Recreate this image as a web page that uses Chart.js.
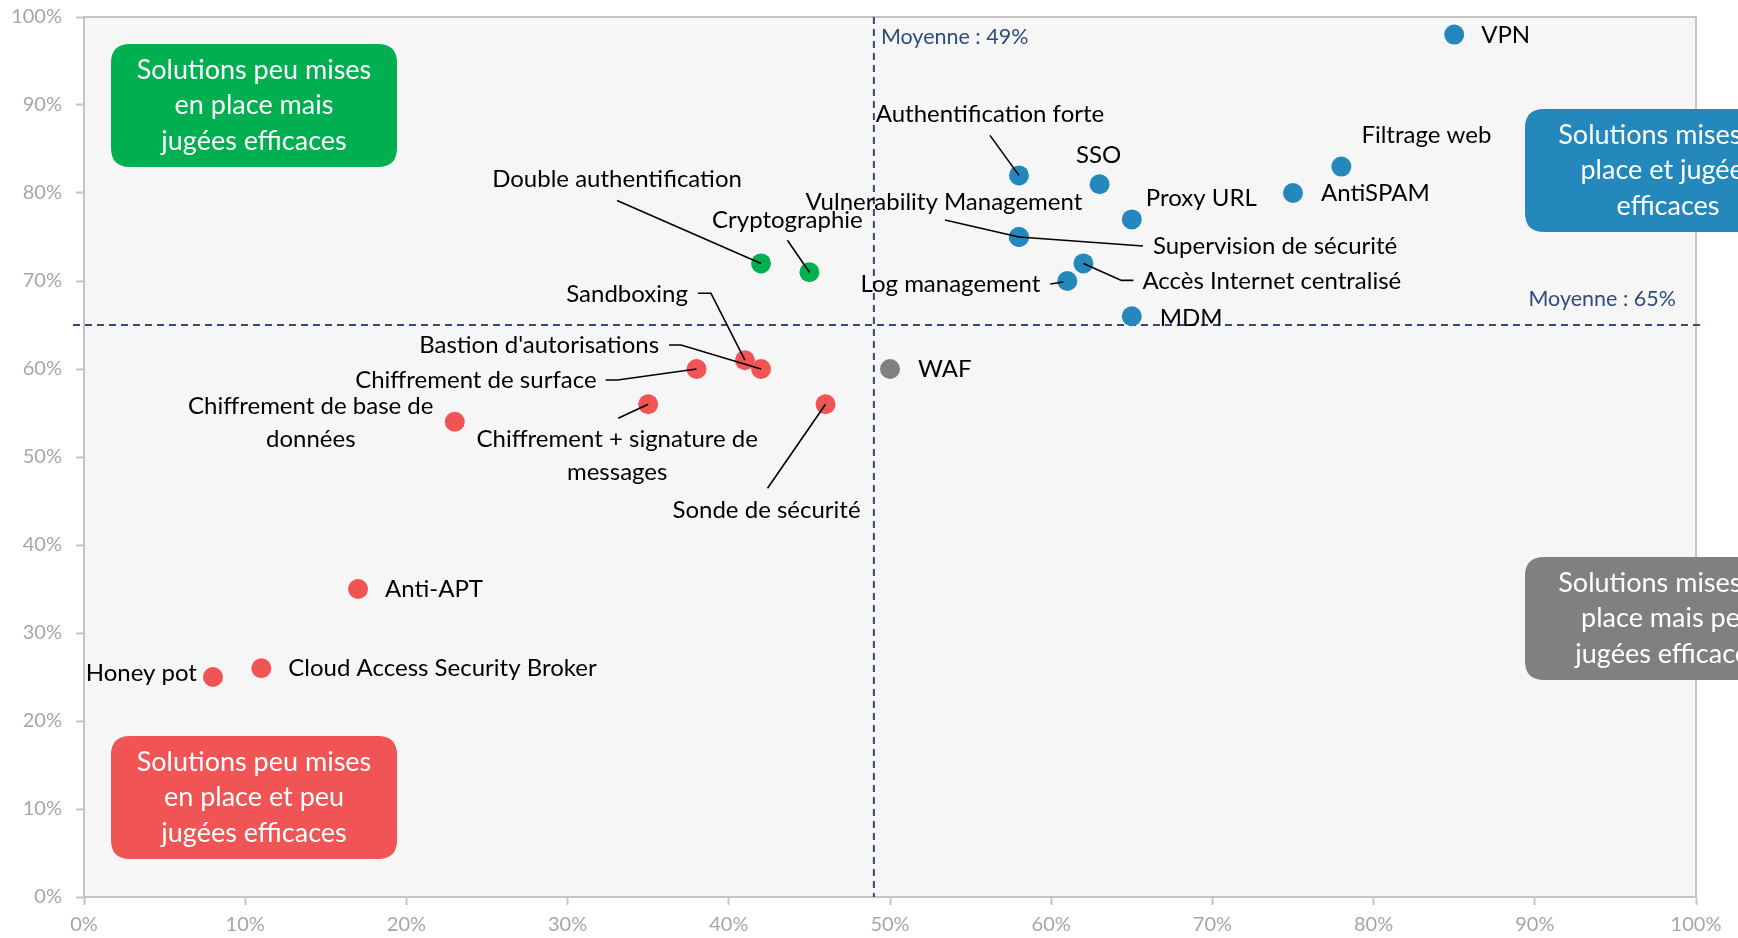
<!DOCTYPE html>
<html>
<head>
<meta charset="utf-8">
<script src="https://cdn.jsdelivr.net/npm/chart.js@4"></script>
<style>
  html, body { margin: 0; padding: 0; background: #fff; }
  canvas { display: block; }
</style>
</head>
<body>
<canvas id="chart" width="1738" height="938"></canvas>
<script>
// values (x = mise en place, y = efficacité, in %)
const blueNames = ['VPN', 'Filtrage web', 'AntiSPAM', 'Authentification forte', 'SSO', 'Proxy URL',
  'Vulnerability Management', 'Supervision de sécurité', 'Accès Internet centralisé', 'Log management', 'MDM'];
const blueX = [85, 78, 75, 58, 63, 65, 58, 58, 62, 61, 65];
const blueY = [98, 83, 80, 82, 81, 77, 75, 75, 72, 70, 66];

const greenNames = ['Double authentification', 'Cryptographie'];
const greenX = [42, 45];
const greenY = [72, 71];

const redNames = ['Sandboxing', "Bastion d'autorisations", 'Chiffrement de surface', 'Chiffrement de base de données',
  'Chiffrement + signature de messages', 'Sonde de sécurité', 'Anti-APT', 'Cloud Access Security Broker', 'Honey pot'];
const redX = [41, 42, 38, 23, 35, 46, 17, 11, 8];
const redY = [61, 60, 60, 54, 56, 56, 35, 26, 25];

const greyNames = ['WAF'];
const greyX = [50];
const greyY = [60];

const meanX = 49;
const meanY = 65;

const quadrantTexts = {
  topLeft: ['Solutions peu mises', 'en place mais', 'jugées efficaces'],
  topRight: ['Solutions mises en', 'place et jugées', 'efficaces'],
  bottomRight: ['Solutions mises en', 'place mais peu', 'jugées efficaces'],
  bottomLeft: ['Solutions peu mises', 'en place et peu', 'jugées efficaces']
};

// label placement: pixel offsets from the point, optional leader line
const labelLayout = {
  'VPN': { dx: 27, dy: 1, align: 'left' },
  'Filtrage web': { dx: 85, dy: -31, align: 'center' },
  'AntiSPAM': { dx: 28, dy: 0, align: 'left' },
  'Authentification forte': { dx: -29, dy: -61, align: 'center', leader: [[-29, -40], [0, 0]] },
  'SSO': { dx: -1, dy: -29, align: 'center' },
  'Proxy URL': { dx: 14, dy: -21, align: 'left' },
  'Vulnerability Management': { dx: -75, dy: -35, align: 'center', leader: [[-74, -17], [0, 0]] },
  'Supervision de sécurité': { dx: 134, dy: 9, align: 'left', leader: [[124, 9], [0, 0]] },
  'Accès Internet centralisé': { dx: 59, dy: 18, align: 'left', leader: [[50, 17], [38, 17], [0, 0]] },
  'Log management': { dx: -27, dy: 3, align: 'right', leader: [[-17, 3], [-4, 1]] },
  'MDM': { dx: 28, dy: 2, align: 'left' },
  'WAF': { dx: 28, dy: 0, align: 'left' },
  'Double authentification': { dx: -144, dy: -84, align: 'center', leader: [[-144, -63], [0, 0]] },
  'Cryptographie': { dx: -22, dy: -52, align: 'center', leader: [[-22, -32], [0, 0]] },
  'Sandboxing': { dx: -57, dy: -66, align: 'right', leader: [[-47, -67], [-34, -67], [0, 0]] },
  "Bastion d'autorisations": { dx: -102, dy: -24, align: 'right', leader: [[-92, -24], [-80, -24], [0, 0]] },
  'Chiffrement de surface': { dx: -100, dy: 11, align: 'right', leader: [[-91, 11], [-79, 11], [0, 0]] },
  'Chiffrement de base de données': { dx: -144, dy: -16, align: 'center', lines: ['Chiffrement de base de', 'données'] },
  'Chiffrement + signature de messages': { dx: -31, dy: 35, align: 'center', lines: ['Chiffrement + signature de', 'messages'], leader: [[-30, 14], [0, 0]] },
  'Sonde de sécurité': { dx: -59, dy: 106, align: 'center', leader: [[-58, 84], [0, 0]] },
  'Anti-APT': { dx: 27, dy: 0, align: 'left' },
  'Cloud Access Security Broker': { dx: 27, dy: 0, align: 'left' },
  'Honey pot': { dx: -16, dy: -4, align: 'right' }
};

function points(xs, ys) {
  return xs.map((x, i) => ({ x: x, y: ys[i] }));
}

const FONT = 'Lato, "Open Sans", sans-serif';
const meanColor = '#2E4C7C';

function roundRect(ctx, x, y, w, h, r) {
  ctx.beginPath();
  ctx.moveTo(x + r, y);
  ctx.lineTo(x + w - r, y);
  ctx.quadraticCurveTo(x + w, y, x + w, y + r);
  ctx.lineTo(x + w, y + h - r);
  ctx.quadraticCurveTo(x + w, y + h, x + w - r, y + h);
  ctx.lineTo(x + r, y + h);
  ctx.quadraticCurveTo(x, y + h, x, y + h - r);
  ctx.lineTo(x, y + r);
  ctx.quadraticCurveTo(x, y, x + r, y);
  ctx.closePath();
}

function drawBox(ctx, x, y, color, lines) {
  ctx.save();
  ctx.fillStyle = color;
  roundRect(ctx, x, y, 286, 123, 19);
  ctx.fill();
  ctx.fillStyle = '#fff';
  ctx.font = '27px ' + FONT;
  ctx.textAlign = 'center';
  ctx.textBaseline = 'middle';
  lines.forEach((l, i) => ctx.fillText(l, x + 143, y + 26 + i * 35.5));
  ctx.restore();
}

const quadrantPlugin = {
  id: 'quadrants',
  beforeDraw(chart) {
    const { ctx, chartArea: a } = chart;
    ctx.save();
    ctx.fillStyle = '#f6f6f6';
    ctx.fillRect(a.left, a.top, a.right - a.left, a.bottom - a.top);
    ctx.strokeStyle = '#c4c4c4';
    ctx.lineWidth = 2;
    ctx.strokeRect(a.left, a.top, a.right - a.left, a.bottom - a.top);
    ctx.restore();
  },
  beforeDatasetsDraw(chart) {
    const { ctx, chartArea: a, scales } = chart;
    const mx = scales.x.getPixelForValue(meanX);
    const my = scales.y.getPixelForValue(meanY);
    ctx.save();
    ctx.strokeStyle = meanColor;
    ctx.lineWidth = 2;
    ctx.setLineDash([7, 5]);
    ctx.beginPath();
    ctx.moveTo(mx, a.top);
    ctx.lineTo(mx, a.bottom);
    ctx.moveTo(a.left - 11, my);
    ctx.lineTo(a.right + 8, my);
    ctx.stroke();
    ctx.setLineDash([]);
    ctx.fillStyle = meanColor;
    ctx.font = '21.5px ' + FONT;
    ctx.textBaseline = 'middle';
    ctx.textAlign = 'left';
    ctx.fillText('Moyenne : ' + meanX + '%', mx + 7, a.top + 20);
    ctx.textAlign = 'right';
    ctx.fillText('Moyenne : ' + meanY + '%', a.right - 20, my - 26);
    ctx.restore();
  },
  afterDatasetsDraw(chart) {
    const { ctx, chartArea: a } = chart;
    ctx.save();
    ctx.font = '24px ' + FONT;
    ctx.textBaseline = 'middle';
    chart.data.datasets.forEach((ds, i) => {
      const meta = chart.getDatasetMeta(i);
      ds.names.forEach((name, j) => {
        const el = meta.data[j];
        const lay = labelLayout[name];
        if (!lay) return;
        if (lay.leader) {
          ctx.strokeStyle = '#000';
          ctx.lineWidth = 1.6;
          ctx.beginPath();
          lay.leader.forEach((p, k) => {
            if (k === 0) ctx.moveTo(el.x + p[0], el.y + p[1]);
            else ctx.lineTo(el.x + p[0], el.y + p[1]);
          });
          ctx.stroke();
        }
        ctx.fillStyle = '#000';
        ctx.textAlign = lay.align;
        const lines = lay.lines || [name];
        lines.forEach((l, k) => ctx.fillText(l, el.x + lay.dx, el.y + lay.dy + k * 33));
      });
    });
    ctx.restore();

    drawBox(ctx, a.left + 27, a.top + 27, '#00B050', quadrantTexts.topLeft);
    drawBox(ctx, a.right - 171, a.top + 92, '#2588BC', quadrantTexts.topRight);
    drawBox(ctx, a.right - 171, a.top + 540, '#808080', quadrantTexts.bottomRight);
    drawBox(ctx, a.left + 27, a.bottom - 161, '#F05454', quadrantTexts.bottomLeft);
  }
};

const axisCommon = {
  type: 'linear',
  min: 0,
  max: 100,
  ticks: {
    stepSize: 10,
    color: '#a6a6a6',
    font: { family: FONT, size: 20 },
    callback: (v) => v + '%'
  },
  grid: { drawOnChartArea: false, drawTicks: true, tickLength: 8, tickColor: '#c4c4c4', tickWidth: 2 },
  border: { color: '#c4c4c4', width: 2 }
};

new Chart(document.getElementById('chart'), {
  type: 'scatter',
  data: {
    datasets: [
      { label: 'Mises en place et efficaces', names: blueNames, data: points(blueX, blueY), backgroundColor: '#2588BC' },
      { label: 'Peu mises en place mais efficaces', names: greenNames, data: points(greenX, greenY), backgroundColor: '#00B050' },
      { label: 'Peu mises en place et peu efficaces', names: redNames, data: points(redX, redY), backgroundColor: '#F05454' },
      { label: 'Mises en place mais peu efficaces', names: greyNames, data: points(greyX, greyY), backgroundColor: '#808080' }
    ].map((d) => Object.assign(d, { pointRadius: 10, pointHoverRadius: 10, borderWidth: 0 }))
  },
  options: {
    responsive: false,
    animation: false,
    devicePixelRatio: 1,
    layout: { padding: { top: 17, right: 42, left: 0, bottom: 0 } },
    plugins: { legend: { display: false }, tooltip: { enabled: false } },
    scales: {
      x: Object.assign({}, axisCommon, {
        ticks: Object.assign({}, axisCommon.ticks, { padding: 8, maxRotation: 0 }),
        afterFit: (s) => { s.height = 41; s.paddingLeft = 0; s.paddingRight = 0; }
      }),
      y: Object.assign({}, axisCommon, {
        ticks: Object.assign({}, axisCommon.ticks, { padding: 14 }),
        afterFit: (s) => { s.width = 84; s.paddingTop = 0; s.paddingBottom = 0; }
      })
    }
  },
  plugins: [quadrantPlugin]
});
</script>
</body>
</html>
